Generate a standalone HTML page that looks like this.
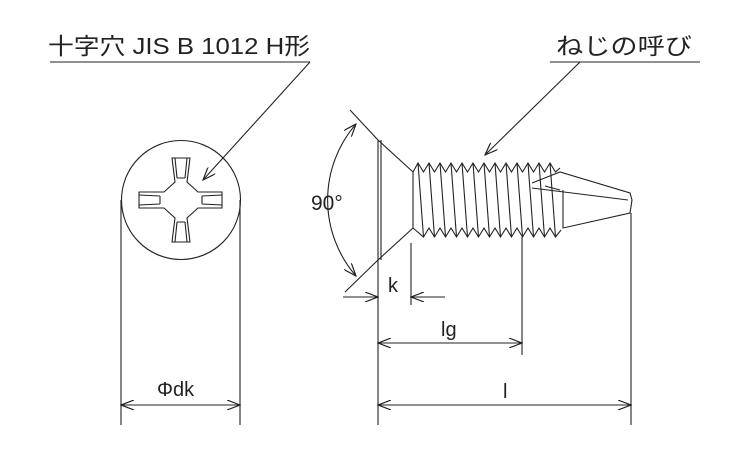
<!DOCTYPE html>
<html><head><meta charset="utf-8"><style>
html,body{margin:0;padding:0;background:#fff;}
svg{display:block;}
text{font-family:"Liberation Sans","Noto Sans CJK JP",sans-serif;fill:#222;}
</style></head><body>
<svg width="750" height="450" viewBox="0 0 750 450" xmlns="http://www.w3.org/2000/svg">
<defs>
<marker id="a" markerWidth="14" markerHeight="10" refX="13" refY="5" orient="auto-start-reverse" markerUnits="userSpaceOnUse">
<path d="M0,0 L13,5 L0,10" fill="none" stroke="#222" stroke-width="1.2"/>
</marker>
</defs>
<g stroke="#222" stroke-width="1.1" fill="none">
<line x1="50" y1="62" x2="310" y2="62"/>
<line x1="310" y1="62" x2="203" y2="180" marker-end="url(#a)"/>
<line x1="550" y1="62" x2="700" y2="62"/>
<line x1="580" y1="62" x2="485" y2="155" marker-end="url(#a)"/>
<circle cx="181" cy="200" r="59.5"/>
<path d="M172,158 L190,158 L187,182 L198,192 L222,192 L222,208 L198,208 L187,218 L190,242 L172,242 L175,218 L164,208 L139,208 L139,192 L164,192 L175,182 Z"/>
<path d="M175,158 L177,178 M187,158 L185,178 M177,178 L185,178 M177,222 L185,222 M175,242 L177,222 M187,242 L185,222 M139,195 L160,196 M139,205 L160,204 M222,195 L202,196 M222,205 L202,204 M160,196 L160,204 M202,196 L202,204"/>
<line x1="121" y1="200" x2="121" y2="425"/>
<line x1="240" y1="200" x2="240" y2="425"/>
<line x1="121" y1="405" x2="240" y2="405" marker-start="url(#a)" marker-end="url(#a)"/>
<line x1="378" y1="140" x2="378" y2="425"/>
<line x1="381" y1="140" x2="381" y2="260"/>
<line x1="378" y1="140" x2="413" y2="172"/>
<line x1="378" y1="260" x2="413" y2="228"/>
<line x1="413" y1="172" x2="413" y2="228"/>
<line x1="378" y1="140" x2="350" y2="110"/>
<line x1="378" y1="260" x2="345" y2="292"/>
<path d="M356,124 A116,116 0 0 0 356,276" marker-start="url(#a)" marker-end="url(#a)"/>
<path d="M413,172 L418,163 L423.5,172 L429,163 L434.5,172 L440,163 L445.5,172 L451,163 L456.5,172 L462,163 L467.5,172 L473,163 L478.5,172 L484,163 L489.5,172 L495,163 L500.5,172 L506,163 L511.5,172 L517,163 L522.5,172 L528,163 L533.5,172 L539,163 L544.5,172 L550,163 L555.5,172 L560,168"/>
<path d="M413,228 L423.5,237 L429,228 L434.5,237 L440,228 L445.5,237 L451,228 L456.5,237 L462,228 L467.5,237 L473,228 L478.5,237 L484,228 L489.5,237 L495,228 L500.5,237 L506,228 L511.5,237 L517,228 L522.5,237 L528,228 L533.5,237 L539,228 L544.5,237 L550,228 L555.5,237 L561,230"/>
<path d="M418,163 L423.5,237 M429,163 L434.5,237 M440,163 L445.5,237 M451,163 L456.5,237 M462,163 L467.5,237 M473,163 L478.5,237 M484,163 L489.5,237 M495,163 L500.5,237 M506,163 L511.5,237 M517,163 L522.5,237 M528,163 L533.5,237 M539,163 L544.5,237 M550,163 L555.5,237"/>
<path d="M532,183 L560,172 L630,193 L632,200 L630,213 L563,228 L563,190 M532,188 L628,200 M545,186 L560,190"/>
<line x1="411" y1="243" x2="411" y2="305"/>
<line x1="522" y1="237" x2="522" y2="355"/>
<line x1="631" y1="213" x2="631" y2="425"/>
<line x1="343" y1="297" x2="378" y2="297" marker-end="url(#a)"/>
<line x1="445" y1="297" x2="411" y2="297" marker-end="url(#a)"/>
<line x1="378" y1="343" x2="522" y2="343" marker-start="url(#a)" marker-end="url(#a)"/>
<line x1="378" y1="405" x2="631" y2="405" marker-start="url(#a)" marker-end="url(#a)"/>
</g>
<text x="48" y="54" font-size="23" textLength="262" lengthAdjust="spacingAndGlyphs">十字穴 JIS B 1012 H形</text>
<text x="556" y="54" font-size="23" textLength="136" lengthAdjust="spacingAndGlyphs">ねじの呼び</text>
<text x="311" y="210" font-size="21">90°</text>
<text x="388" y="292" font-size="20">k</text>
<text x="441" y="336" font-size="20">lg</text>
<text x="503" y="398" font-size="20">l</text>
<text x="157" y="396" font-size="20">Φdk</text>
</svg>
</body></html>
